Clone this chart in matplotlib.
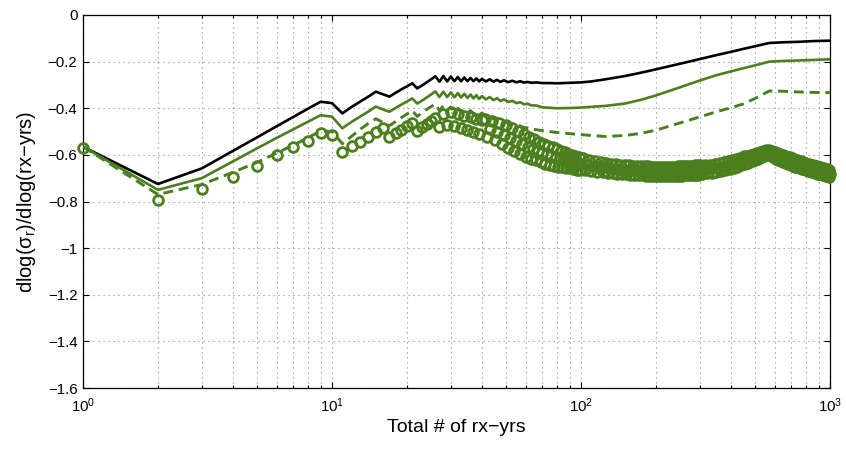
import matplotlib
matplotlib.use('Agg')
import matplotlib.pyplot as plt
from matplotlib.ticker import LogLocator, NullFormatter, FixedLocator

plt.rcParams['font.family'] = ['Liberation Sans', 'DejaVu Sans']
plt.rcParams['mathtext.fontset'] = 'custom'
plt.rcParams['mathtext.rm'] = 'Liberation Sans'
plt.rcParams['mathtext.it'] = 'Liberation Sans'
plt.rcParams['mathtext.sf'] = 'Liberation Sans'
plt.rcParams['mathtext.bf'] = 'Liberation Sans:bold'

# ---------------- data ----------------
x_line = list(range(1, 41)) + [41.5, 43, 44.5, 46, 47.5, 49, 51, 53, 55, 57, 59, 61, 63.5, 66,
                               70, 75, 80, 90, 100, 110, 125, 150, 175, 200,
                               250, 300, 350, 400, 450, 500, 570, 650, 750, 850, 1000]

black_y = [-0.565, -0.725, -0.658, -0.583, -0.525, -0.477, -0.437, -0.402, -0.372, -0.378,
           -0.422, -0.394, -0.371, -0.350, -0.329, -0.340, -0.350, -0.334, -0.319, -0.306,
           -0.293, -0.315, -0.302, -0.289, -0.276, -0.263, -0.286, -0.262, -0.285, -0.264,
           -0.284, -0.266, -0.284, -0.268, -0.284, -0.270, -0.284, -0.272, -0.285, -0.274,
           -0.285, -0.276, -0.286, -0.278, -0.287, -0.280, -0.288, -0.282, -0.289, -0.284,
           -0.290, -0.287, -0.291, -0.289,
           -0.292, -0.292, -0.293, -0.291, -0.289, -0.285, -0.276, -0.262, -0.247, -0.233,
           -0.209, -0.189, -0.172, -0.158, -0.145, -0.134, -0.120, -0.117, -0.115, -0.112, -0.110]

green_y = [-0.565, -0.750, -0.700, -0.628, -0.572, -0.527, -0.490, -0.458, -0.430, -0.436,
           -0.486, -0.458, -0.435, -0.414, -0.393, -0.405, -0.415, -0.399, -0.384, -0.371,
           -0.358, -0.380, -0.367, -0.354, -0.341, -0.328, -0.352, -0.329, -0.352, -0.332,
           -0.353, -0.335, -0.354, -0.338, -0.356, -0.341, -0.358, -0.344, -0.360, -0.348,
           -0.362, -0.352, -0.365, -0.357, -0.369, -0.362, -0.373, -0.368, -0.378, -0.374,
           -0.383, -0.381, -0.388, -0.388,
           -0.396, -0.398, -0.400, -0.399, -0.397, -0.394, -0.390, -0.380, -0.363, -0.345,
           -0.310, -0.281, -0.258, -0.242, -0.228, -0.216, -0.200, -0.197, -0.195, -0.193, -0.190]

dashed_y = [-0.565, -0.770, -0.727, -0.675, -0.632, -0.592, -0.558, -0.527, -0.497, -0.500,
            -0.552, -0.520, -0.490, -0.465, -0.445, -0.460, -0.475, -0.457, -0.440, -0.425,
            -0.410, -0.435, -0.420, -0.405, -0.393, -0.382, -0.410, -0.390, -0.412, -0.395,
            -0.415, -0.400, -0.418, -0.405, -0.420, -0.410, -0.425, -0.415, -0.430, -0.420,
            -0.436, -0.430, -0.447, -0.443, -0.457, -0.455, -0.466, -0.466, -0.475, -0.476,
            -0.483, -0.484, -0.490, -0.492,
            -0.496, -0.500, -0.504, -0.509, -0.513, -0.517, -0.521, -0.517, -0.507, -0.494,
            -0.463, -0.437, -0.415, -0.398, -0.381, -0.358, -0.326, -0.327, -0.330, -0.332, -0.333]

x_circ = list(range(1, 101)) + list(range(102, 301, 2)) + list(range(305, 1001, 5))

circ_y = [
    # 1..40
    -0.570, -0.794, -0.747, -0.694, -0.648, -0.600, -0.568, -0.539, -0.508, -0.515,
    -0.587, -0.564, -0.543, -0.522, -0.502, -0.486, -0.522, -0.507, -0.493, -0.478,
    -0.465, -0.497, -0.482, -0.468, -0.455, -0.442, -0.480, -0.425, -0.470, -0.415,
    -0.475, -0.425, -0.485, -0.432, -0.492, -0.438, -0.500, -0.445, -0.512, -0.452,
    # 41..100
    -0.447, -0.522, -0.490, -0.456, -0.537, -0.502, -0.464, -0.553, -0.514, -0.472,
    -0.570, -0.527, -0.485, -0.583, -0.541, -0.498, -0.596, -0.554, -0.511, -0.609,
    -0.565, -0.523, -0.616, -0.574, -0.533, -0.624, -0.583, -0.543, -0.632, -0.592,
    -0.553, -0.637, -0.598, -0.560, -0.642, -0.604, -0.568, -0.646, -0.610, -0.576,
    -0.650, -0.615, -0.583, -0.652, -0.620, -0.588, -0.656, -0.624, -0.595, -0.658,
    -0.628, -0.600, -0.660, -0.632, -0.604, -0.663, -0.635, -0.608, -0.665, -0.638,
    # 102..300 step 2
    -0.614, -0.667, -0.643, -0.620, -0.671, -0.647, -0.626, -0.673, -0.651, -0.632,
    -0.673, -0.654, -0.635, -0.676, -0.657, -0.638, -0.679, -0.660, -0.640, -0.681,
    -0.661, -0.642, -0.683, -0.663, -0.644, -0.684, -0.665, -0.645, -0.686, -0.666,
    -0.646, -0.687, -0.667, -0.647, -0.688, -0.668, -0.648, -0.688, -0.669, -0.649,
    -0.689, -0.669, -0.649, -0.690, -0.670, -0.650, -0.690, -0.670, -0.650, -0.690,
    -0.670, -0.650, -0.690, -0.670, -0.650, -0.690, -0.670, -0.650, -0.690, -0.670,
    -0.650, -0.690, -0.670, -0.650, -0.690, -0.670, -0.650, -0.690, -0.670, -0.650,
    -0.690, -0.670, -0.649, -0.689, -0.669, -0.649, -0.689, -0.669, -0.648, -0.688,
    -0.668, -0.648, -0.688, -0.667, -0.647, -0.687, -0.667, -0.646, -0.686, -0.666,
    -0.646, -0.686, -0.666, -0.645, -0.685, -0.665, -0.645, -0.685, -0.664, -0.644,
    # 305..1000 step 5
    -0.680, -0.663, -0.645, -0.679, -0.661, -0.643, -0.676, -0.658, -0.640, -0.673,
    -0.655, -0.636, -0.669, -0.650, -0.632, -0.664, -0.646, -0.627, -0.660, -0.641,
    -0.623, -0.655, -0.637, -0.618, -0.650, -0.631, -0.612, -0.644, -0.625, -0.606,
    -0.639, -0.620, -0.603, -0.633, -0.616, -0.599, -0.628, -0.611, -0.595, -0.621,
    -0.606, -0.591, -0.616, -0.601, -0.588, -0.610, -0.597, -0.584, -0.604, -0.591,
    -0.580, -0.598, -0.587, -0.580, -0.602, -0.594, -0.584, -0.610, -0.600, -0.588,
    -0.616, -0.604, -0.591, -0.621, -0.609, -0.595, -0.626, -0.613, -0.600, -0.631,
    -0.618, -0.604, -0.635, -0.621, -0.608, -0.639, -0.625, -0.611, -0.643, -0.629,
    -0.615, -0.646, -0.632, -0.618, -0.650, -0.636, -0.622, -0.653, -0.639, -0.625,
    -0.656, -0.642, -0.628, -0.659, -0.645, -0.631, -0.662, -0.648, -0.634, -0.665,
    -0.651, -0.637, -0.668, -0.654, -0.640, -0.670, -0.656, -0.642, -0.673, -0.659,
    -0.645, -0.675, -0.661, -0.647, -0.678, -0.663, -0.649, -0.680, -0.666, -0.651,
    -0.682, -0.668, -0.654, -0.684, -0.670, -0.656, -0.687, -0.672, -0.658, -0.688,
    -0.674, -0.660, -0.691, -0.676, -0.662, -0.692, -0.678, -0.664, -0.695, -0.680]

y_ticks = [-1.6, -1.4, -1.2, -1.0, -0.8, -0.6, -0.4, -0.2, 0.0]
y_tick_labels = ['\u22121.6', '\u22121.4', '\u22121.2', '\u22121', '\u22120.8',
                 '\u22120.6', '\u22120.4', '\u22120.2', '0']

x_label = 'Total # of rx\u2212yrs'
y_label = r'dlog($\mathregular{\sigma_r}$)/dlog(rx$\mathregular{-}$yrs)'

GREEN = '#4b7f1e'

# ---------------- figure ----------------
fig = plt.figure(figsize=(8.46, 4.5), dpi=100)
ax = fig.add_axes([83 / 846, 1 - 388 / 450, (830 - 83) / 846, (388 - 15) / 450])

ax.plot(x_line, black_y, color='black', lw=1.9, zorder=3)
ax.plot(x_line, green_y, color=GREEN, lw=1.9, zorder=3)
ax.plot(x_line, dashed_y, color=GREEN, lw=2.1, dashes=(3.4, 2.0), zorder=3)
ax.plot(x_circ, circ_y, ls='none', marker='o', ms=7.0, mfc='none', mec=GREEN,
        mew=2.0, zorder=4, clip_on=False)

ax.set_xscale('log')
ax.set_xlim(1, 1000)
ax.set_ylim(-1.6, 0)
ax.yaxis.set_major_locator(FixedLocator(y_ticks))
ax.set_yticklabels(y_tick_labels)
ax.xaxis.set_major_locator(LogLocator(base=10, numticks=10))
ax.xaxis.set_minor_locator(LogLocator(base=10, subs=tuple(range(2, 10)), numticks=20))
ax.xaxis.set_minor_formatter(NullFormatter())

gkw = dict(color='#8a8a8a', lw=0.8, ls=(0, (1, 3.5)))
ax.grid(True, which='major', axis='both', **gkw)
ax.grid(True, which='minor', axis='x', **gkw)
ax.set_axisbelow(True)

ax.tick_params(which='both', direction='in', top=True, right=True, labelsize=10.8,
               width=0.8, color='black')
ax.tick_params(which='major', length=4.5)
ax.tick_params(which='minor', length=2.5)
ax.tick_params(axis='y', pad=4)
ax.tick_params(axis='x', pad=6)
for s in ax.spines.values():
    s.set_linewidth(0.9)
    s.set_color('black')

ax.set_xlabel(x_label, fontsize=14, labelpad=3)
ax.set_ylabel(y_label, fontsize=14.5, labelpad=7)

fig.savefig('out.png', dpi=100, facecolor='white')
